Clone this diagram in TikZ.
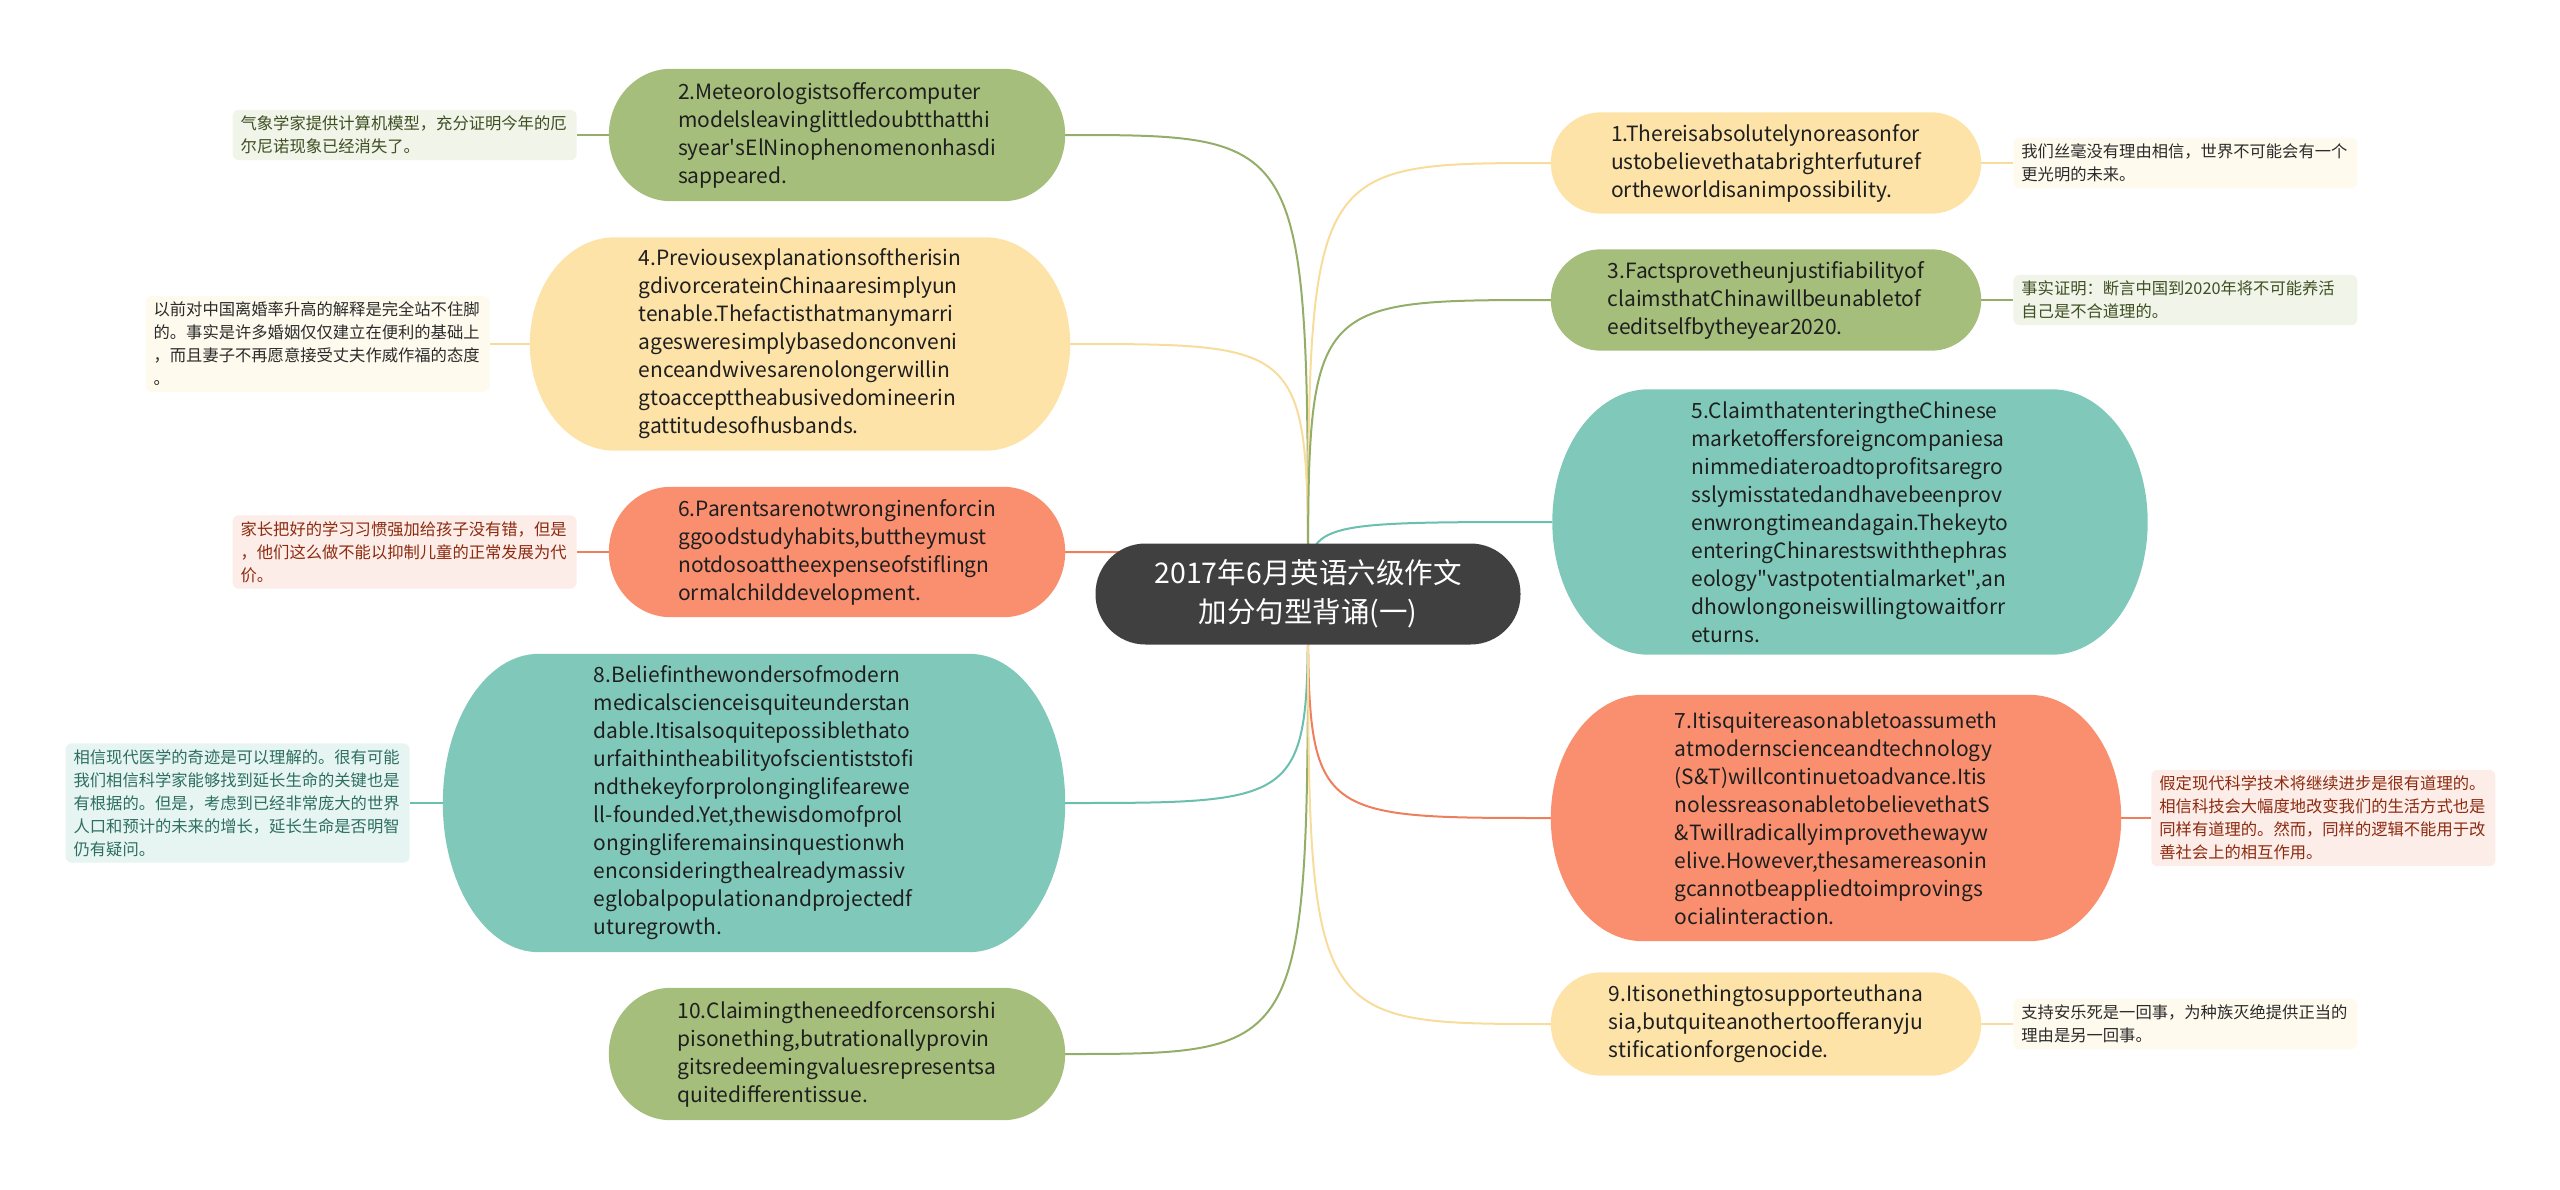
\documentclass[tikz,border=0pt]{standalone}
\usepackage{fontspec}
\setmainfont{Noto Sans CJK SC}
\usetikzlibrary{backgrounds,calc,positioning}
\definecolor{cetRoot}{HTML}{404040}
\definecolor{cetInk}{HTML}{1F1F1F}
\definecolor{cetGreen}{HTML}{A5BE7B}
\definecolor{cetYellow}{HTML}{FDE3A7}
\definecolor{cetOrange}{HTML}{F98F6F}
\definecolor{cetTeal}{HTML}{80C9BA}
\definecolor{cetGreenLine}{HTML}{94AD68}
\definecolor{cetYellowLine}{HTML}{F8DC9C}
\definecolor{cetOrangeLine}{HTML}{EE7F5D}
\definecolor{cetTealLine}{HTML}{6ABFAF}
\definecolor{cetGreenNote}{HTML}{F0F4E9}
\definecolor{cetYellowNote}{HTML}{FEFAEE}
\definecolor{cetOrangeNote}{HTML}{FDEDE8}
\definecolor{cetTealNote}{HTML}{E7F5F2}
\definecolor{cetGreenText}{HTML}{3E4F22}
\definecolor{cetYellowText}{HTML}{2B2B2B}
\definecolor{cetOrangeText}{HTML}{8C2B10}
\definecolor{cetTealText}{HTML}{2D6E61}
\tikzset{
  cet root/.style={rectangle, rounded corners=50pt, fill=cetRoot, text=white, align=center,
    minimum width=425pt, minimum height=101pt, font=\fontsize{28.5}{39}\selectfont},
  cet topic/.style={rectangle, inner sep=0pt, align=left, text=cetInk,
    font=\fontsize{21}{28}\selectfont},
  cet note/.style={rectangle, rounded corners=6pt, inner xsep=8pt, inner ysep=6pt, align=left,
    text width=328pt, font=\fontsize{16.3}{23}\selectfont},
  cet link/.style={line width=2pt},
}
% bubble behind a topic: node, depth of the rounded ends, colour
\newcommand\cetbubble[3]{%
  \fill[#3] let \p1=(#1.north east), \p2=(#1.south west), \n1={0.5*(\y1-\y2)} in
    (\x2+#2,\y1) -- (\x1-#2,\y1)
    arc[start angle=90, end angle=-90, x radius=#2, y radius=\n1]
    -- (\x2+#2,\y2)
    arc[start angle=-90, end angle=-270, x radius=#2, y radius=\n1] -- cycle;}

\begin{document}
\begin{tikzpicture}[x=1pt, y=-1pt]
  \useasboundingbox (0,0) rectangle (2560,1189);
  \node[cet root] (root) at (1308,594) {2017年6月英语六级作文\\加分句型背诵(一)};

  % Left branches
  \node[cet topic, minimum width=456pt, minimum height=132pt] (t2) at (837,135)
    {2.Meteorologistsoffercomputer\\modelsleavinglittledoubtthatthi\\syear\textquotesingle sElNinophenomenonhasdi\\sappeared.};
  \node[cet topic, minimum width=540pt, minimum height=213pt] (t4) at (800,344)
    {4.Previousexplanationsoftherisin\\gdivorcerateinChinaaresimplyun\\tenable.Thefactisthatmanymarri\\agesweresimplybasedonconveni\\enceandwivesarenolongerwillin\\gtoaccepttheabusivedomineerin\\gattitudesofhusbands.};
  \node[cet topic, minimum width=456pt, minimum height=130pt] (t6) at (837,552)
    {6.Parentsarenotwronginenforcin\\ggoodstudyhabits,buttheymust\\notdosoattheexpenseofstiflingn\\ormalchilddevelopment.};
  \node[cet topic, minimum width=622pt, minimum height=298pt] (t8) at (754,803)
    {8.Beliefinthewondersofmodern\\medicalscienceisquiteunderstan\\dable.Itisalsoquitepossiblethato\\urfaithintheabilityofscientiststofi\\ndthekeyforprolonginglifearewe\\ll-founded.Yet,thewisdomofprol\\ongingliferemainsinquestionwh\\enconsideringthealreadymassiv\\eglobalpopulationandprojectedf\\uturegrowth.};
  \node[cet topic, minimum width=456pt, minimum height=132pt] (t10) at (837,1054)
    {10.Claimingtheneedforcensorshi\\pisonething,butrationallyprovin\\gitsredeemingvaluesrepresentsa\\quitedifferentissue.};

  % Right branches
  \node[cet topic, minimum width=430pt, minimum height=101pt] (t1) at (1766,163)
    {1.Thereisabsolutelynoreasonfor\\ustobelievethatabrighterfuturef\\ortheworldisanimpossibility.};
  \node[cet topic, minimum width=430pt, minimum height=101pt] (t3) at (1766,300)
    {3.Factsprovetheunjustifiabilityof\\claimsthatChinawillbeunabletof\\eeditselfbytheyear2020.};
  \node[cet topic, minimum width=595pt, minimum height=265pt] (t5) at (1850,522)
    {5.ClaimthatenteringtheChinese\\marketoffersforeigncompaniesa\\nimmediateroadtoprofitsaregro\\sslymisstatedandhavebeenprov\\enwrongtimeandagain.Thekeyto\\enteringChinarestswiththephras\\eology\textquotedbl vastpotentialmarket\textquotedbl,an\\dhowlongoneiswillingtowaitforr\\eturns.};
  \node[cet topic, minimum width=570pt, minimum height=246pt] (t7) at (1836,818)
    {7.Itisquitereasonabletoassumeth\\atmodernscienceandtechnology\\(S\&T)willcontinuetoadvance.Itis\\nolessreasonabletobelievethatS\\\&Twillradicallyimprovethewayw\\elive.However,thesamereasonin\\gcannotbeappliedtoimprovings\\ocialinteraction.};
  \node[cet topic, minimum width=430pt, minimum height=103pt] (t9) at (1766,1024)
    {9.Itisonethingtosupporteuthana\\sia,butquiteanothertoofferanyju\\stificationforgenocide.};

  % Notes
  \node[cet note, fill=cetGreenNote, text=cetGreenText, left=32pt of t2] (n2)
    {气象学家提供计算机模型，充分证明今年的厄\\尔尼诺现象已经消失了。};
  \node[cet note, fill=cetYellowNote, text=cetYellowText, left=40pt of t4] (n4)
    {以前对中国离婚率升高的解释是完全站不住脚\\的。事实是许多婚姻仅仅建立在便利的基础上\\，而且妻子不再愿意接受丈夫作威作福的态度\\。};
  \node[cet note, fill=cetOrangeNote, text=cetOrangeText, left=32pt of t6] (n6)
    {家长把好的学习习惯强加给孩子没有错，但是\\，他们这么做不能以抑制儿童的正常发展为代\\价。};
  \node[cet note, fill=cetTealNote, text=cetTealText, left=33pt of t8] (n8)
    {相信现代医学的奇迹是可以理解的。很有可能\\我们相信科学家能够找到延长生命的关键也是\\有根据的。但是，考虑到已经非常庞大的世界\\人口和预计的未来的增长，延长生命是否明智\\仍有疑问。};
  \node[cet note, fill=cetYellowNote, text=cetYellowText, right=32pt of t1] (n1)
    {我们丝毫没有理由相信，世界不可能会有一个\\更光明的未来。};
  \node[cet note, fill=cetGreenNote, text=cetGreenText, right=32pt of t3] (n3)
    {事实证明：断言中国到2020年将不可能养活\\自己是不合道理的。};
  \node[cet note, fill=cetOrangeNote, text=cetOrangeText, right=30pt of t7] (n7)
    {假定现代科学技术将继续进步是很有道理的。\\相信科技会大幅度地改变我们的生活方式也是\\同样有道理的。然而，同样的逻辑不能用于改\\善社会上的相互作用。};
  \node[cet note, fill=cetYellowNote, text=cetYellowText, right=32pt of t9] (n9)
    {支持安乐死是一回事，为种族灭绝提供正当的\\理由是另一回事。};

  \begin{scope}[on background layer]
    % Curved links from the centre of the root
    \foreach \t/\c in {t2/cetGreenLine, t4/cetYellowLine, t6/cetOrangeLine, t8/cetTealLine, t10/cetGreenLine}
      \draw[cet link, draw=\c] (root.center) .. controls (root.center |- \t.east) .. (\t.east);
    \foreach \t/\c in {t1/cetYellowLine, t3/cetGreenLine, t5/cetTealLine, t7/cetOrangeLine, t9/cetYellowLine}
      \draw[cet link, draw=\c] (root.center) .. controls (root.center |- \t.west) .. (\t.west);
    % Links to the notes
    \foreach \t/\n/\c in {t2/n2/cetGreenLine, t4/n4/cetYellowLine, t6/n6/cetOrangeLine, t8/n8/cetTealLine}
      \draw[cet link, draw=\c] (\t.west) -- (\n.east);
    \foreach \t/\n/\c in {t1/n1/cetYellowLine, t3/n3/cetGreenLine, t7/n7/cetOrangeLine, t9/n9/cetYellowLine}
      \draw[cet link, draw=\c] (\t.east) -- (\n.west);
    % Topic bubbles
    \cetbubble{t2}{62pt}{cetGreen}
    \cetbubble{t4}{85pt}{cetYellow}
    \cetbubble{t6}{62pt}{cetOrange}
    \cetbubble{t8}{96pt}{cetTeal}
    \cetbubble{t10}{62pt}{cetGreen}
    \cetbubble{t1}{50pt}{cetYellow}
    \cetbubble{t3}{50pt}{cetGreen}
    \cetbubble{t5}{96pt}{cetTeal}
    \cetbubble{t7}{92pt}{cetOrange}
    \cetbubble{t9}{50pt}{cetYellow}
  \end{scope}
\end{tikzpicture}
\end{document}
